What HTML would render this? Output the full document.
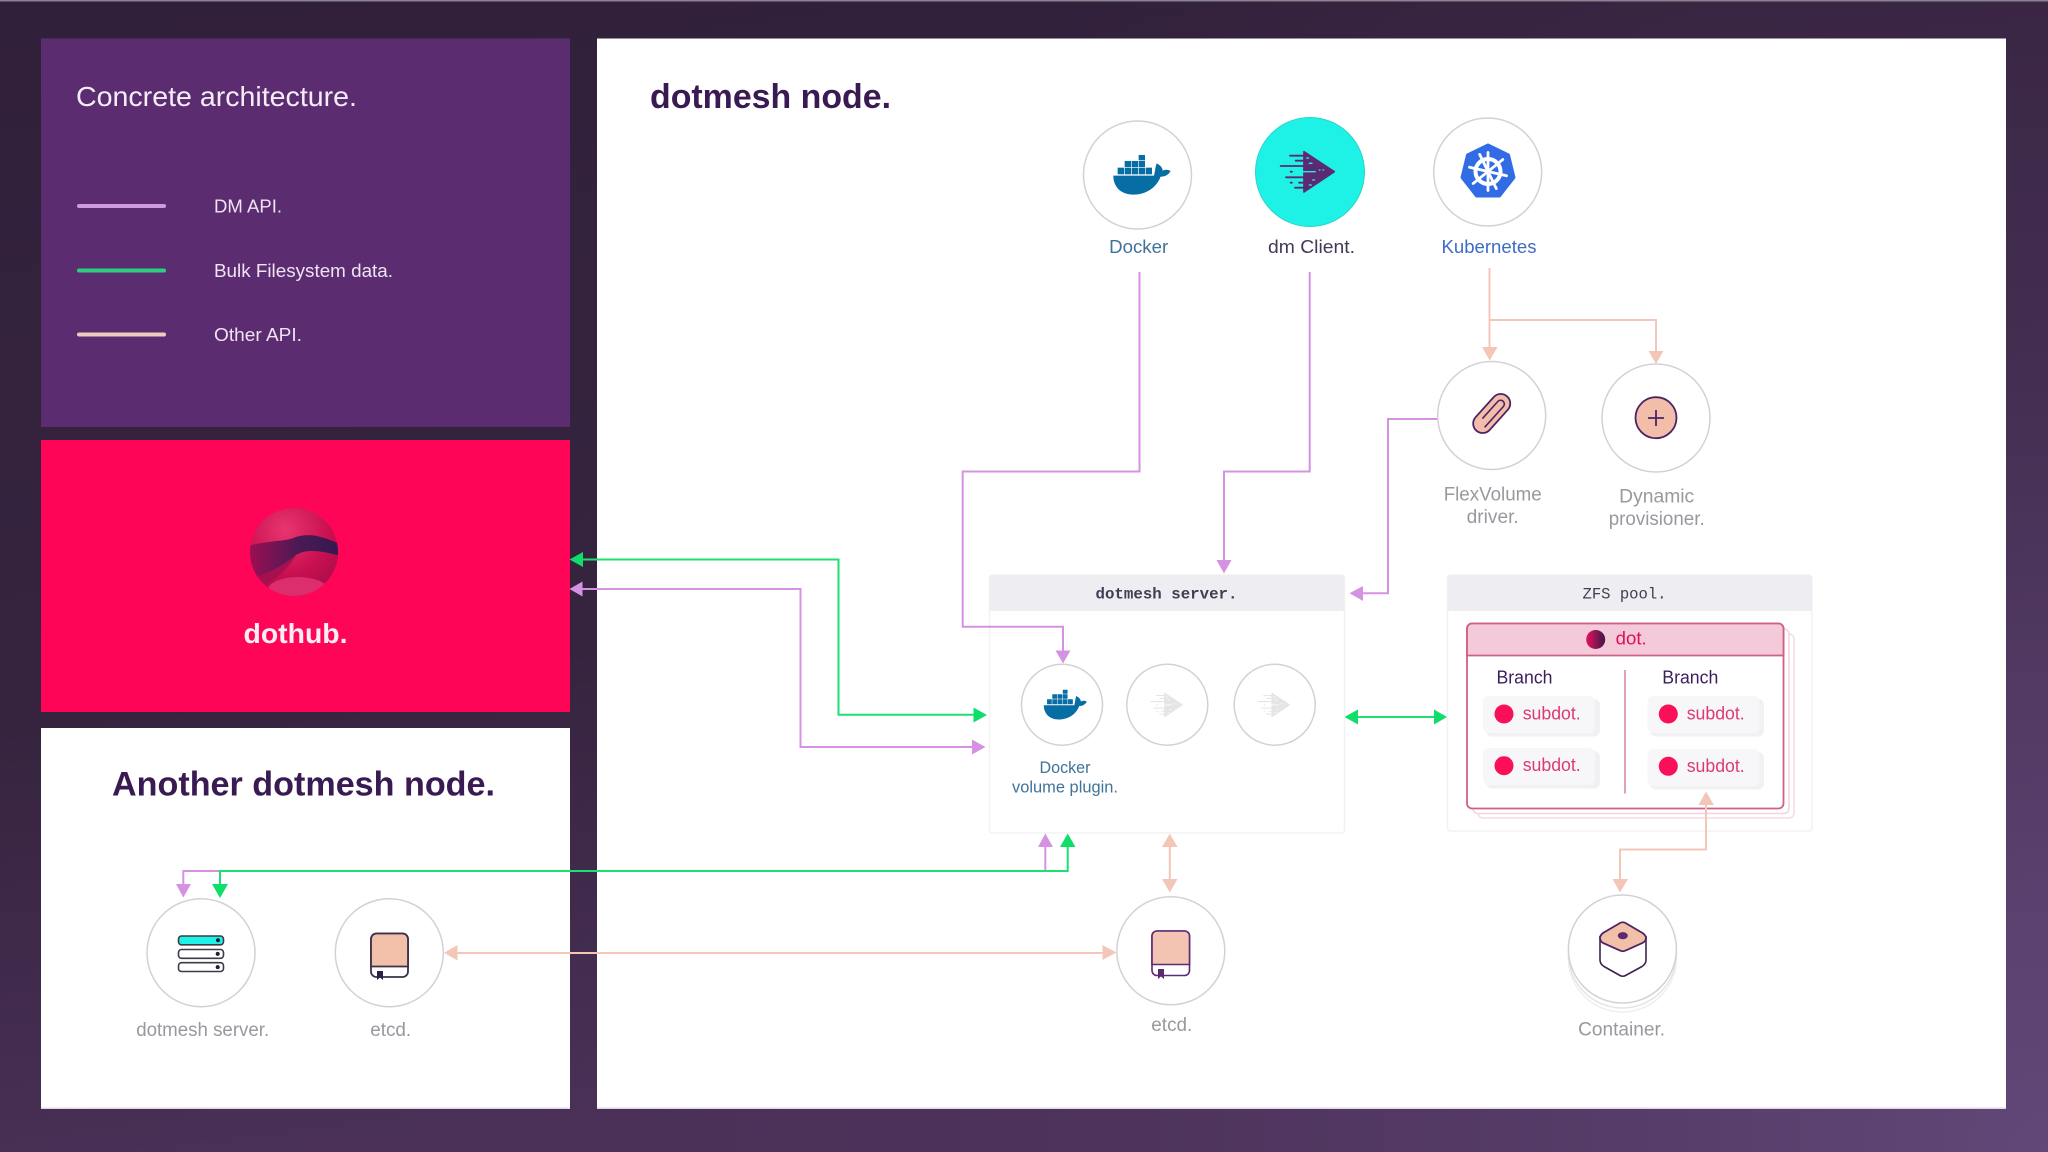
<!DOCTYPE html>
<html lang="en">
<head>
<meta charset="utf-8">
<title>Concrete architecture</title>
<style>
html,body{margin:0;padding:0;width:2048px;height:1152px;overflow:hidden;background:#3a2747}
svg{display:block}
text{font-family:"Liberation Sans",sans-serif}
.mono{font-family:"Liberation Mono",monospace}
.grey{fill:#99989f;font-size:19px}
.c{fill:#fff;stroke:#d4d1d6;stroke-width:1.5}
</style>
</head>
<body>
<svg xmlns="http://www.w3.org/2000/svg" width="2048" height="1152" viewBox="0 0 2048 1152">
<defs>
<linearGradient id="bg" x1="0" y1="0" x2=".25" y2="1">
<stop offset="0" stop-color="#31203a"/><stop offset=".6" stop-color="#36243f"/><stop offset="1" stop-color="#4b3158"/>
</linearGradient>
<radialGradient id="bg2" gradientUnits="userSpaceOnUse" cx="2048" cy="1152" r="1500">
<stop offset="0" stop-color="#62497a" stop-opacity=".95"/><stop offset="1" stop-color="#4a3058" stop-opacity="0"/>
</radialGradient>
<linearGradient id="dotg" x1="0" y1="0" x2="1" y2="0">
<stop offset="0" stop-color="#e8105a"/><stop offset="1" stop-color="#3a1a48"/>
</linearGradient>
<linearGradient id="band" x1="0" y1="0" x2="1" y2="0">
<stop offset="0" stop-color="#a00e52"/><stop offset=".55" stop-color="#4a1a55"/><stop offset="1" stop-color="#36184e"/>
</linearGradient>
<radialGradient id="sph" cx=".4" cy=".25" r=".85">
<stop offset="0" stop-color="#e8356f"/><stop offset=".6" stop-color="#c80f50"/><stop offset="1" stop-color="#a50d4c"/>
</radialGradient>
<clipPath id="sc"><circle cx="294" cy="552" r="44"/></clipPath>
<g id="whale" fill="#066da5">
<path d="M190 257H312C316 240 316 230 320 220C332 226 338 234 338 242C346 238 354 238 362 243C354 256 344 260 332 260C318 296 285 314 250 314C212 314 190 290 190 257Z"/>
<rect x="203" y="233" width="19" height="20"/><rect x="224" y="233" width="19" height="20"/><rect x="245" y="233" width="19" height="20"/><rect x="266" y="233" width="19" height="20"/><rect x="287" y="233" width="19" height="20"/>
<rect x="224" y="213" width="19" height="18"/><rect x="245" y="213" width="19" height="18"/><rect x="266" y="213" width="19" height="18"/>
<rect x="266" y="195" width="19" height="16"/>
</g>
<g id="dart">
<path d="M762 185L853 245L762 306Z" fill="currentColor" stroke="currentColor" stroke-width="5" stroke-linejoin="round"/>
<g stroke="currentColor" stroke-width="5.5" stroke-linecap="round" fill="none">
<path d="M720 197H770M737 212H775M692 228H785M708 262H790M735 293H772M747 278H785"/>
<path d="M722 245H726M722 278H726"/>
</g>
<g stroke-width="4" stroke-linecap="round" fill="none">
<path d="M742 245H796M808 240H810M819 240H821"/>
<path d="M770 204H776M778 220H786M788 270H794M778 285H784"/>
</g>
</g>
</defs>

<rect width="2048" height="1152" fill="url(#bg)"/>
<rect width="2048" height="1152" fill="url(#bg2)"/>
<rect width="2048" height="1.5" fill="#8a8290"/>

<!-- panels -->
<rect x="41" y="38.5" width="529" height="388.5" fill="#5b2d70"/>
<rect x="41" y="440" width="529" height="272" fill="#ff0558"/>
<rect x="41" y="728" width="529" height="381" fill="#fff"/>
<rect x="597" y="38.5" width="1409" height="1070.5" fill="#fff"/>
<rect x="41" y="1107.5" width="529" height="1.5" fill="#e3d6e8"/>
<rect x="597" y="1107.5" width="1409" height="1.5" fill="#e3d6e8"/>

<!-- legend -->
<text x="76" y="106" font-size="28" fill="#f6ecf8" textLength="281" lengthAdjust="spacingAndGlyphs">Concrete architecture.</text>
<g stroke-width="4" stroke-linecap="round">
<line x1="79" y1="206" x2="164" y2="206" stroke="#d09ae0"/>
<line x1="79" y1="270.5" x2="164" y2="270.5" stroke="#2bd07e"/>
<line x1="79" y1="334.5" x2="164" y2="334.5" stroke="#f2cbc0"/>
</g>
<g font-size="18.5" fill="#f1e2f4">
<text x="214" y="212.5" textLength="68" lengthAdjust="spacingAndGlyphs">DM API.</text>
<text x="214" y="277" textLength="179" lengthAdjust="spacingAndGlyphs">Bulk Filesystem data.</text>
<text x="214" y="341" textLength="88" lengthAdjust="spacingAndGlyphs">Other API.</text>
</g>

<!-- dothub -->
<circle cx="294" cy="552" r="44" fill="url(#sph)"/>
<g clip-path="url(#sc)">
<path d="M248 546C270 540 285 542 296 537C312 532 325 538 340 544L340 556C320 550 305 549 296 555C282 566 270 574 250 578Z" fill="url(#band)"/>
<path d="M250 578C270 574 282 566 296 555C288 570 270 585 255 590Z" fill="#a60f50"/>
<ellipse cx="298" cy="590" rx="30" ry="13" fill="#dc2e6c"/>
</g>
<text x="243.5" y="643" font-size="28" font-weight="bold" fill="#fbeef3" textLength="104" lengthAdjust="spacingAndGlyphs">dothub.</text>

<!-- titles -->
<text x="650" y="108" font-size="34" font-weight="bold" fill="#3a1a52" textLength="241" lengthAdjust="spacingAndGlyphs">dotmesh node.</text>
<text x="112" y="795.5" font-size="34" font-weight="bold" fill="#3a1a52" textLength="383" lengthAdjust="spacingAndGlyphs">Another dotmesh node.</text>

<!-- dotmesh server box -->
<rect x="989.5" y="575" width="355" height="258" rx="3" fill="#fff" stroke="#f2f1f4" stroke-width="1.5"/>
<path d="M989.5 611V578a3 3 0 0 1 3-3H1341a3 3 0 0 1 3 3V611Z" fill="#eeedf1"/>
<text class="mono" x="1166.5" y="598.5" text-anchor="middle" font-size="16" font-weight="bold" fill="#443c52" textLength="142" lengthAdjust="spacingAndGlyphs">dotmesh server.</text>

<!-- ZFS box -->
<rect x="1447.5" y="575" width="364.5" height="256" rx="3" fill="#fff" stroke="#f2f1f4" stroke-width="1.5"/>
<path d="M1447.5 611V578a3 3 0 0 1 3-3H1809a3 3 0 0 1 3 3V611Z" fill="#eeedf1"/>
<text class="mono" x="1624.5" y="598.5" text-anchor="middle" font-size="16" fill="#443c52" textLength="84" lengthAdjust="spacingAndGlyphs">ZFS pool.</text>
<rect x="1478" y="634" width="316" height="184" rx="5" fill="#fff" stroke="#f4dde4" stroke-width="1.5"/>
<rect x="1473" y="629" width="316" height="184.5" rx="5" fill="#fff" stroke="#f4d4de" stroke-width="1.5"/>
<rect x="1467" y="623.5" width="316.5" height="185" rx="5" fill="#fff" stroke="#cf6088" stroke-width="1.8"/>
<path d="M1467 655.5V628.5a5 5 0 0 1 5-5H1778.5a5 5 0 0 1 5 5V655.5Z" fill="#f4c9da" stroke="#cf6088" stroke-width="1.8"/>
<circle cx="1595.7" cy="639.5" r="9.5" fill="url(#dotg)"/>
<text x="1615.7" y="644.5" font-size="18" fill="#dd1059" textLength="31" lengthAdjust="spacingAndGlyphs">dot.</text>
<g font-size="18" fill="#3a1f5c">
<text x="1496.5" y="683.5" textLength="56" lengthAdjust="spacingAndGlyphs">Branch</text>
<text x="1662.3" y="683.5" textLength="56" lengthAdjust="spacingAndGlyphs">Branch</text>
</g>
<line x1="1625" y1="670" x2="1625" y2="793.5" stroke="#d98ba8" stroke-width="1.6"/>
<g fill="#f1f1f3">
<rect x="1486" y="699" width="114" height="37.5" rx="6"/><rect x="1486" y="751" width="114" height="37.5" rx="6"/>
<rect x="1650" y="699" width="114" height="37.5" rx="6"/><rect x="1650" y="752" width="114" height="37.5" rx="6"/>
</g>
<g fill="#f7f7f9">
<rect x="1483" y="696" width="112" height="37" rx="6"/><rect x="1483" y="748" width="112" height="37" rx="6"/>
<rect x="1647.5" y="696" width="112" height="37" rx="6"/><rect x="1647.5" y="749" width="112" height="37" rx="6"/>
</g>
<g fill="#fa0f58">
<circle cx="1504" cy="714" r="9.5"/><circle cx="1504" cy="765.7" r="9.5"/>
<circle cx="1668.3" cy="714" r="9.5"/><circle cx="1668.3" cy="766.3" r="9.5"/>
</g>
<g font-size="18" fill="#dc3a74">
<text x="1522.7" y="719.5" textLength="58" lengthAdjust="spacingAndGlyphs">subdot.</text>
<text x="1522.7" y="771" textLength="58" lengthAdjust="spacingAndGlyphs">subdot.</text>
<text x="1686.7" y="719.5" textLength="58" lengthAdjust="spacingAndGlyphs">subdot.</text>
<text x="1686.7" y="772" textLength="58" lengthAdjust="spacingAndGlyphs">subdot.</text>
</g>

<!-- connectors: peach -->
<g fill="none" stroke="#f3c7b8" stroke-width="2">
<path d="M1489.5 268V349M1489.5 320H1656V352"/>
<path d="M1169.8 845V880"/>
<path d="M1706 803V849.5H1620V880"/>
<path d="M455 953H1104"/>
</g>
<g fill="#f3c7b8">
<polygon points="1482,347 1497.5,347 1489.7,360.5"/>
<polygon points="1648.5,351 1663.5,351 1656,364"/>
<polygon points="1162,847 1177.5,847 1169.8,833.5"/>
<polygon points="1162,879 1177.5,879 1169.8,892.5"/>
<polygon points="1612.5,879 1628,879 1620,892.5"/>
<polygon points="1698.5,805 1714,805 1706,791.5"/>
<polygon points="457.5,945 457.5,960.5 444,952.8"/>
<polygon points="1102.5,945 1102.5,960 1116.5,952.5"/>
</g>

<!-- connectors: purple -->
<g fill="none" stroke="#d592e2" stroke-width="2">
<path d="M1139.5 272V471.5H962.7V626.7H1063V652"/>
<path d="M1309.7 272V471.5H1224V562"/>
<path d="M1438 419H1388V593.3H1362"/>
<path d="M582 589H800.5V747H974"/>
<path d="M1045.3 846V871H183.3V885"/>
</g>
<g fill="#d592e2">
<polygon points="1055.5,650.5 1070.5,650.5 1063,663.5"/>
<polygon points="1216.5,560 1231.5,560 1224,573.5"/>
<polygon points="1363,586 1363,601 1349.5,593.3"/>
<polygon points="582.5,581.5 582.5,596.5 569.5,589"/>
<polygon points="972,739.5 972,754.5 985.5,747"/>
<polygon points="1038,847 1053,847 1045.3,833.5"/>
<polygon points="176,884 191,884 183.3,897.5"/>
</g>

<!-- connectors: green -->
<g fill="none" stroke="#1ee072" stroke-width="2">
<path d="M582 559.5H838.5V714.8H975"/>
<path d="M1067.7 846V871H220V885"/>
<path d="M1358 717H1435"/>
</g>
<g fill="#10de6b">
<polygon points="583,552 583,567 569.5,559.5"/>
<polygon points="973.5,707.5 973.5,722.5 987,715"/>
<polygon points="1060,847 1075.5,847 1067.7,833.5"/>
<polygon points="212,884 228,884 220,898"/>
<polygon points="1358,709.5 1358,724.5 1344.5,717"/>
<polygon points="1434,709.5 1434,724.5 1447,717"/>
</g>

<!-- top circles -->
<circle class="c" cx="1137.5" cy="175" r="54"/>
<use href="#whale" transform="translate(1050 90) scale(.3333)"/>
<circle cx="1310" cy="172" r="54.5" fill="#1ef2e6" stroke="#2ad6c8" stroke-width="1"/>
<g transform="translate(1050 90) scale(.3333)" color="#5b2a72">
<use href="#dart" stroke="#1ef2e6"/>
</g>
<circle class="c" cx="1487.7" cy="172" r="54"/>
<g transform="translate(1488 171.5)">
<polygon points="0,-26.5 20.5,-16.5 26,6 11.5,24.5 -11.5,24.5 -26,6 -20.5,-16.5" fill="#326ce5" stroke="#326ce5" stroke-width="3" stroke-linejoin="round"/>
<circle r="12.5" fill="none" stroke="#fff" stroke-width="4"/>
<g stroke="#fff" stroke-width="2.8" stroke-linecap="round">
<line x1="0" y1="-19" x2="0" y2="19"/>
<line x1="0" y1="-19" x2="0" y2="19" transform="rotate(51)"/>
<line x1="0" y1="-19" x2="0" y2="19" transform="rotate(103)"/>
<line x1="0" y1="-19" x2="0" y2="19" transform="rotate(154)"/>
</g>
<circle r="3" fill="#fff"/>
</g>
<text x="1138.7" y="253" text-anchor="middle" font-size="18.5" fill="#3f7398" textLength="59" lengthAdjust="spacingAndGlyphs">Docker</text>
<text x="1311.5" y="253" text-anchor="middle" font-size="18.5" fill="#453756" textLength="87" lengthAdjust="spacingAndGlyphs">dm Client.</text>
<text x="1489" y="253" text-anchor="middle" font-size="18.5" fill="#3f6cc4" textLength="95" lengthAdjust="spacingAndGlyphs">Kubernetes</text>

<!-- FlexVolume -->
<circle class="c" cx="1491.7" cy="415.5" r="54"/>
<g transform="translate(1491.7 413.5) rotate(-48)" stroke="#4e2366" fill="#f2bda9">
<rect x="-23" y="-9.5" width="46" height="19" rx="9.5" stroke-width="1.8"/>
<path d="M-10 -3.5H13a3.7 3.7 0 0 1 0 7.5H-15" fill="none" stroke-width="1.6"/>
</g>
<text class="grey" x="1492.7" y="500.5" text-anchor="middle" textLength="98" lengthAdjust="spacingAndGlyphs">FlexVolume</text>
<text class="grey" x="1492.7" y="523" text-anchor="middle" textLength="52" lengthAdjust="spacingAndGlyphs">driver.</text>

<!-- Dynamic provisioner -->
<circle class="c" cx="1656" cy="418" r="54"/>
<circle cx="1656" cy="417.7" r="20.5" fill="#f2bda9" stroke="#4e2366" stroke-width="1.8"/>
<path d="M1656 410V426M1648 418H1664" stroke="#4e2366" stroke-width="1.8"/>
<text class="grey" x="1656.7" y="502.5" text-anchor="middle" textLength="75" lengthAdjust="spacingAndGlyphs">Dynamic</text>
<text class="grey" x="1656.7" y="525" text-anchor="middle" textLength="96" lengthAdjust="spacingAndGlyphs">provisioner.</text>

<!-- server inner circles -->
<circle class="c" cx="1062" cy="704.7" r="40.5"/>
<use href="#whale" transform="translate(996.3 641) scale(.25)"/>
<circle class="c" cx="1167.3" cy="704.7" r="40.5"/>
<circle class="c" cx="1274.7" cy="704.7" r="40.5"/>
<g transform="translate(1016.8 657.3) scale(.194)" color="#e6e5e5">
<use href="#dart" stroke="#fff"/>
</g>
<g transform="translate(1124.1 657.3) scale(.194)" color="#e6e5e5">
<use href="#dart" stroke="#fff"/>
</g>
<text x="1065" y="773" text-anchor="middle" font-size="16.5" fill="#3f7398" textLength="51" lengthAdjust="spacingAndGlyphs">Docker</text>
<text x="1065" y="792.5" text-anchor="middle" font-size="16.5" fill="#3f7398" textLength="106" lengthAdjust="spacingAndGlyphs">volume plugin.</text>

<!-- another node: dotmesh server -->
<circle class="c" cx="201" cy="952.7" r="54"/>
<g stroke="#3f3a48" stroke-width="1.6">
<rect x="178.5" y="936" width="45" height="8.8" rx="3" fill="#1ef2e6"/>
<rect x="178.5" y="949.5" width="45" height="8.8" rx="3" fill="#fff"/>
<rect x="178.5" y="962.7" width="45" height="8.8" rx="3" fill="#fff"/>
</g>
<g fill="#221a38">
<circle cx="218" cy="940.3" r="2"/><circle cx="217.7" cy="953.9" r="2"/><circle cx="217.7" cy="967.1" r="2"/>
</g>
<text class="grey" x="202.7" y="1036" text-anchor="middle" textLength="133" lengthAdjust="spacingAndGlyphs">dotmesh server.</text>

<!-- another node: etcd -->
<circle class="c" cx="389.3" cy="952.7" r="54"/>
<rect x="371" y="933.5" width="37" height="43.5" rx="5.5" fill="#fff" stroke="#3c3048" stroke-width="1.8"/>
<path d="M371 966.5V939a5.5 5.5 0 0 1 5.5-5.5H402.5a5.5 5.5 0 0 1 5.5 5.5V966.5Z" fill="#f2bfa8" stroke="#3c3048" stroke-width="1.8"/>
<path d="M377 971H383V980L380 977.5L377 980Z" fill="#2b2148"/>
<text class="grey" x="390.7" y="1036" text-anchor="middle" textLength="41" lengthAdjust="spacingAndGlyphs">etcd.</text>

<!-- main etcd -->
<circle class="c" cx="1170.8" cy="950.8" r="54"/>
<rect x="1152" y="931" width="37.5" height="44.5" rx="5" fill="#fff" stroke="#5b2a72" stroke-width="1.6"/>
<path d="M1152 964.5V936a5 5 0 0 1 5-5H1184.5a5 5 0 0 1 5 5V964.5Z" fill="#f4c4b2" stroke="#5b2a72" stroke-width="1.6"/>
<path d="M1158 969H1164V979L1161 976.5L1158 979Z" fill="#5b2a72"/>
<text class="grey" x="1171.8" y="1031" text-anchor="middle" textLength="41" lengthAdjust="spacingAndGlyphs">etcd.</text>

<!-- container -->
<circle cx="1622.4" cy="958" r="54" fill="#fff" stroke="#efeef1" stroke-width="1.5"/>
<circle cx="1622.4" cy="954" r="54" fill="#fff" stroke="#e6e4e8" stroke-width="1.5"/>
<circle class="c" cx="1622.4" cy="949" r="54"/>
<path d="M1600 936V960Q1600 964 1604 966.5L1620 975.5Q1622.8 977 1625.5 975.5L1642 966.5Q1646 964 1646 960V936" fill="#fff" stroke="#3d2450" stroke-width="1.6"/>
<path d="M1620 923Q1622.8 921.5 1625.5 923L1642.5 933Q1646 935.5 1646 938Q1646 941 1642.5 943L1625.5 950.5Q1622.8 952 1620 950.5L1603 943Q1600 941 1600 938Q1600 935.5 1603 933Z" fill="#f2bfa8" stroke="#4e2366" stroke-width="1.8"/>
<ellipse cx="1622.8" cy="935.7" rx="5" ry="3.6" fill="#5b2a72"/>
<text class="grey" x="1621.6" y="1035.7" text-anchor="middle" textLength="87" lengthAdjust="spacingAndGlyphs">Container.</text>
</svg>
</body>
</html>
